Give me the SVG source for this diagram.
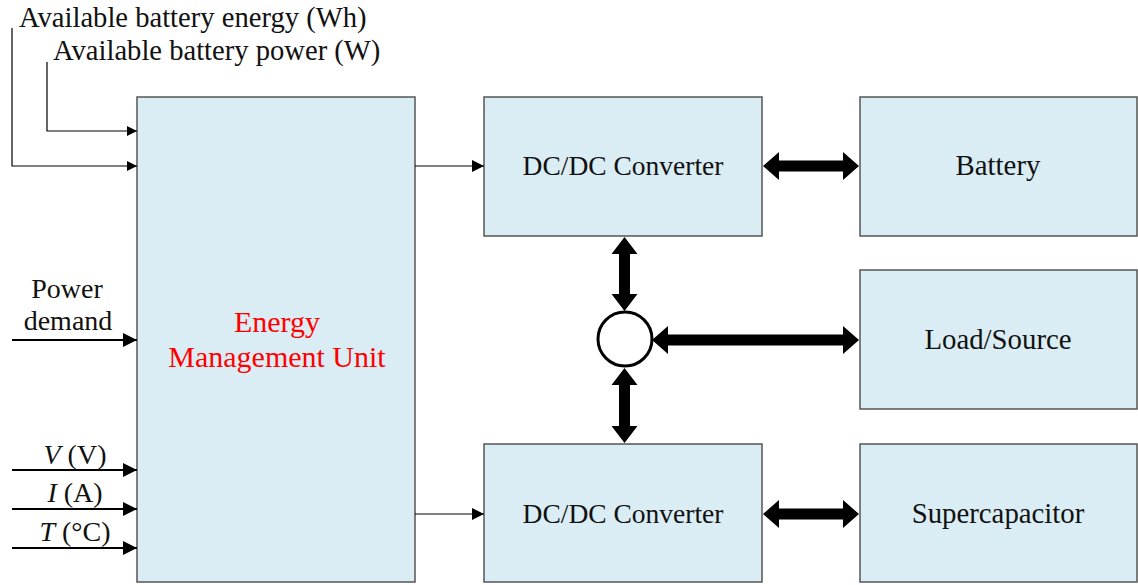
<svg xmlns="http://www.w3.org/2000/svg" width="1138" height="585" viewBox="0 0 1138 585">
<defs>
<style>
.box{fill:#daedf4;stroke:#555;stroke-width:1.5}
.t{font-family:"Liberation Serif","Times New Roman",serif;font-size:28px;fill:#111}
.c{text-anchor:middle}
.red{fill:#ff0000;font-size:30px}
.dc{font-size:27.5px}
.rb{font-size:28.8px}
.top{font-size:28.6px}
.thin{stroke:#000;stroke-width:1.2;fill:none}
.med{stroke:#000;stroke-width:2;fill:none}
.big{fill:#000}
</style>
<marker id="ah" viewBox="0 0 10 10" refX="10" refY="5" markerWidth="13" markerHeight="10" markerUnits="userSpaceOnUse" orient="auto">
<path d="M0,0 L10,5 L0,10 z" fill="#000"/>
</marker>
<marker id="ah3" viewBox="0 0 10 10" refX="10" refY="5" markerWidth="15" markerHeight="12" markerUnits="userSpaceOnUse" orient="auto">
<path d="M0,0 L10,5 L0,10 z" fill="#000"/>
</marker>
<marker id="ah2" viewBox="0 0 10 10" refX="10" refY="5" markerWidth="18" markerHeight="14" markerUnits="userSpaceOnUse" orient="auto">
<path d="M0,0 L10,5 L0,10 z" fill="#000"/>
</marker>
</defs>
<rect width="1138" height="585" fill="#fff"/>

<g id="emu">
<rect class="box" x="137" y="97" width="278" height="485"/>
<text class="t c red" x="277" y="332">Energy</text>
<text class="t c red" x="277" y="367">Management Unit</text>
</g>
<g id="dcdc-top">
<rect class="box" x="484" y="97" width="278" height="139"/>
<text class="t c dc" x="623" y="175">DC/DC Converter</text>
</g>
<g id="battery">
<rect class="box" x="860" y="97" width="277" height="139"/>
<text class="t c rb" x="998" y="175">Battery</text>
</g>
<g id="load">
<rect class="box" x="860" y="270" width="277" height="139"/>
<text class="t c rb" x="998" y="349">Load/Source</text>
</g>
<g id="dcdc-bottom">
<rect class="box" x="484" y="444" width="278" height="138"/>
<text class="t c dc" x="623" y="523">DC/DC Converter</text>
</g>
<g id="supercap">
<rect class="box" x="860" y="444" width="277" height="138"/>
<text class="t c rb" x="998" y="523">Supercapacitor</text>
</g>
<g id="junction">
<circle cx="625" cy="339" r="27" fill="#fff" stroke="#000" stroke-width="3"/>
</g>

<g id="labels">
<text class="t top" x="19" y="27">Available battery energy (Wh)</text>
<text class="t top" x="53" y="60">Available battery power (W)</text>
<text class="t c" x="67" y="298">Power</text>
<text class="t c" x="68" y="330">demand</text>
<text class="t c" x="75" y="464"><tspan font-style="italic">V</tspan> (V)</text>
<text class="t c" x="75" y="502"><tspan font-style="italic">I</tspan> (A)</text>
<text class="t c" x="75" y="541"><tspan font-style="italic">T</tspan> (°C)</text>
</g>

<g id="connectors">
<path class="thin" d="M12,28 V166 H137" marker-end="url(#ah)"/>
<path class="thin" d="M47,62 V131 H137" marker-end="url(#ah)" stroke="#444"/>
<path class="med" d="M12,340 H137" marker-end="url(#ah2)"/>
<path class="med" d="M12,470 H137" marker-end="url(#ah2)"/>
<path class="med" d="M12,509 H137" marker-end="url(#ah2)"/>
<path class="med" d="M12,548 H137" marker-end="url(#ah2)"/>
<path class="thin" d="M415,166 H484" marker-end="url(#ah3)"/>
<path class="thin" d="M415,514 H484" marker-end="url(#ah3)"/>
<polygon class="big" points="763,166 779,152 779,160.5 843,160.5 843,152 859,166 843,180 843,171.5 779,171.5 779,180"/>
<polygon class="big" points="652,340 668,326 668,334.5 843,334.5 843,326 859,340 843,354 843,345.5 668,345.5 668,354"/>
<polygon class="big" points="763,514 779,500 779,508.5 843,508.5 843,500 859,514 843,528 843,519.5 779,519.5 779,528"/>
<polygon class="big" points="624.5,237 637.5,254 630,254 630,294 637.5,294 624.5,311 611.5,294 619,294 619,254 611.5,254"/>
<polygon class="big" points="624.5,368 637.5,385 630,385 630,426 637.5,426 624.5,443 611.5,426 619,426 619,385 611.5,385"/>
</g>
</svg>
